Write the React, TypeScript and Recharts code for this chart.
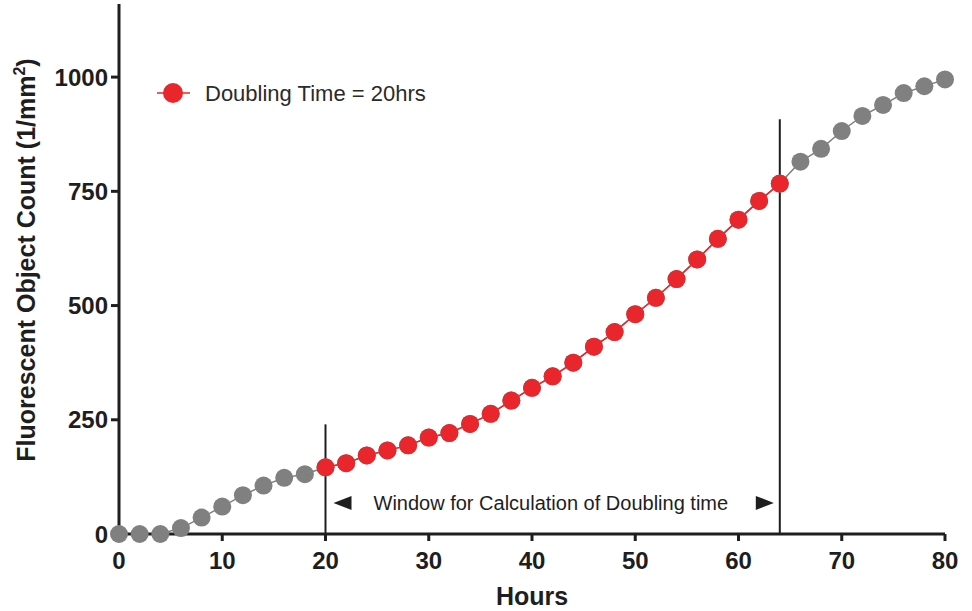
import React from 'react';
import { LineChart, Line, XAxis, YAxis, ReferenceLine, Legend, Label } from 'recharts';

// sampling times (h) and counts
const hours = [
  0, 2, 4, 6, 8, 10, 12, 14, 16, 18, 20, 22, 24, 26, 28, 30, 32, 34, 36, 38, 40,
  42, 44, 46, 48, 50, 52, 54, 56, 58, 60, 62, 64, 66, 68, 70, 72, 74, 76, 78, 80,
];
const counts = [
  0, 0, 0, 13, 36, 60, 85, 106, 123, 131, 146, 155, 172, 183, 194, 211, 221, 241, 263, 292, 320,
  345, 375, 410, 442, 481, 517, 558, 601, 646, 688, 729, 767, 815, 843, 882, 915, 939, 965, 980, 995,
];

const windowStart = 20;
const windowEnd = 64;
const windowMarkerTops = [240, 908];
const windowLabelLevel = 68;

const xTicks = [0, 10, 20, 30, 40, 50, 60, 70, 80];
const yTicks = [0, 250, 500, 750, 1000];

const seriesName = 'Doubling Time = 20hrs';
const windowText = 'Window for Calculation of Doubling time';

const RED = '#e8262b';
const GREY = '#808080';
const INK = '#1e1e1e';
const FONT = '"Liberation Sans", Arial, Helvetica, sans-serif';

const allPoints = hours.map((h, i) => ({ hours: h, count: counts[i] }));
const windowPoints = allPoints.filter((p) => p.hours >= windowStart && p.hours <= windowEnd);

const YTitle = (props: any) => {
  const { viewBox } = props;
  const cx = viewBox.x + 35;
  const cy = viewBox.y + viewBox.height / 2 - 9;
  return (
    <text
      x={cx}
      y={cy}
      transform={`rotate(-90 ${cx} ${cy})`}
      textAnchor="middle"
      fontFamily={FONT}
      fontWeight="bold"
      fontSize={25}
      fill={INK}
    >
      Fluorescent Object Count (1/mm
      <tspan dy={-10} fontSize={16}>2</tspan>
      <tspan dy={10}>)</tspan>
    </text>
  );
};

const XTitle = (props: any) => {
  const { viewBox } = props;
  return (
    <text
      x={viewBox.x + viewBox.width / 2}
      y={viewBox.y + 71}
      textAnchor="middle"
      fontFamily={FONT}
      fontWeight="bold"
      fontSize={25}
      fill={INK}
    >
      Hours
    </text>
  );
};

const WindowLabel = (props: any) => {
  const { viewBox } = props;
  const { x, y, width } = viewBox;
  const r = x + width;
  return (
    <g>
      <polygon points={`${x + 8},${y} ${x + 26},${y - 7} ${x + 26},${y + 7}`} fill={INK} />
      <text x={x + 48} y={y + 7} fontFamily={FONT} fontSize={20} fill={INK}>
        {windowText}
      </text>
      <polygon points={`${r - 6},${y} ${r - 24},${y - 7} ${r - 24},${y + 7}`} fill={INK} />
    </g>
  );
};

const LegendContent = (props: any) => {
  const items = (props.payload || []).filter((p: any) => p.value === seriesName);
  return (
    <svg width={300} height={30}>
      {items.map((p: any) => (
        <g key={p.value}>
          <line x1={2} y1={15} x2={35} y2={15} stroke={RED} strokeWidth={1.5} />
          <circle cx={18} cy={15} r={10} fill={RED} />
          <text x={50} y={23} fontFamily={FONT} fontSize={22} fill="#2a2a2a">
            {p.value}
          </text>
        </g>
      ))}
    </svg>
  );
};

export default function App() {
  return (
    <div style={{ position: 'absolute', left: 0, top: 0, background: '#fff' }}>
      <LineChart width={972} height={611} margin={{ top: 4, right: 27, bottom: 0, left: 0 }}>
        <XAxis
          type="number"
          dataKey="hours"
          domain={[0, 80]}
          ticks={xTicks}
          height={77}
          tickSize={7}
          tickMargin={11}
          axisLine={{ stroke: INK, strokeWidth: 3 }}
          tickLine={{ stroke: INK, strokeWidth: 3 }}
          tick={{ fill: INK, fontSize: 24, fontWeight: 'bold', fontFamily: FONT }}
        >
          <Label content={XTitle} />
        </XAxis>
        <YAxis
          type="number"
          dataKey="count"
          domain={[0, 1160]}
          ticks={yTicks}
          width={119}
          tickSize={8}
          tickMargin={3}
          axisLine={{ stroke: INK, strokeWidth: 3 }}
          tickLine={{ stroke: INK, strokeWidth: 3 }}
          tick={{ fill: INK, fontSize: 24, fontWeight: 'bold', fontFamily: FONT }}
        >
          <Label content={YTitle} />
        </YAxis>
        <Legend
          layout="vertical"
          align="center"
          verticalAlign="middle"
          wrapperStyle={{ left: 155, top: 78, width: 300, height: 30 }}
          content={LegendContent}
        />
        <Line
          data={allPoints}
          dataKey="count"
          name="all"
          legendType="none"
          stroke={GREY}
          strokeWidth={1.5}
          dot={{ r: 9, fill: GREY, stroke: 'none' }}
          activeDot={false}
          isAnimationActive={false}
        />
        <Line
          data={windowPoints}
          dataKey="count"
          name={seriesName}
          stroke={RED}
          strokeWidth={1.5}
          dot={{ r: 9, fill: RED, stroke: 'none' }}
          activeDot={false}
          isAnimationActive={false}
        />
        <ReferenceLine
          segment={[
            { x: windowStart, y: 0 },
            { x: windowStart, y: windowMarkerTops[0] },
          ]}
          stroke={INK}
          strokeWidth={2}
        />
        <ReferenceLine
          segment={[
            { x: windowEnd, y: 0 },
            { x: windowEnd, y: windowMarkerTops[1] },
          ]}
          stroke={INK}
          strokeWidth={2}
        />
        <ReferenceLine
          segment={[
            { x: windowStart, y: windowLabelLevel },
            { x: windowEnd, y: windowLabelLevel },
          ]}
          stroke="none"
          label={<WindowLabel />}
        />
      </LineChart>
    </div>
  );
}
